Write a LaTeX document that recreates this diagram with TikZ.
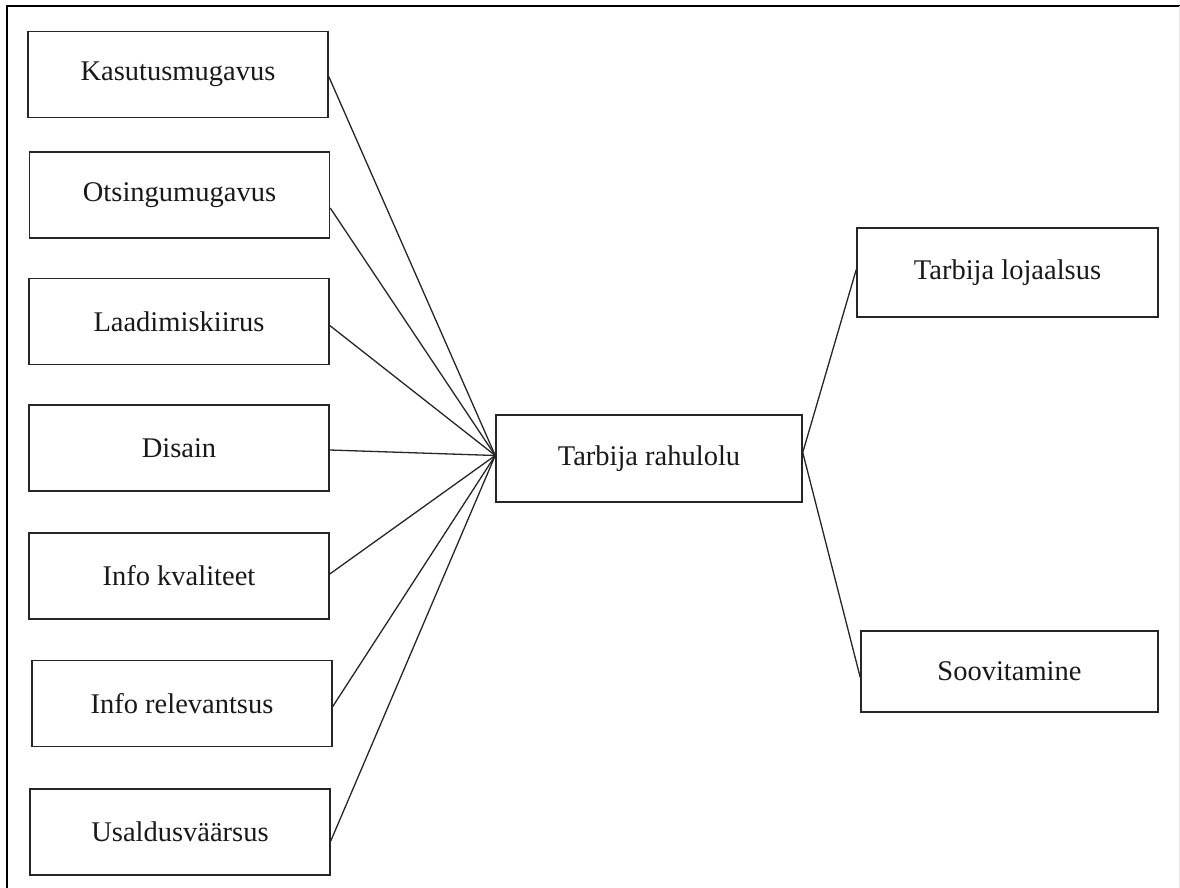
\documentclass[tikz,border=0pt]{standalone}
\usepackage{fontspec}
\setmainfont{Liberation Serif}
\begin{document}
\begin{tikzpicture}[x=1pt,y=-1pt,
  box/.style={draw=black!85,line width=1.5pt,minimum width=300pt,minimum height=86pt,inner sep=0pt,
    font=\fontsize{28.5}{34}\selectfont,text=black!90},
  conn/.style={draw=black!85,line width=1.3pt}]
\useasboundingbox (0,0) rectangle (1180,888);
\fill[white] (0,0) rectangle (1180,888);
\draw[line width=2.5pt,black] (7,888) -- (7,6) -- (1180,6);
\draw[line width=1pt,black!10] (1179,6) -- (1179,888);
\node[box] (k) at (178,74.5) {Kasutusmugavus};
\node[box] (o) at (179.5,195) {Otsingumugavus};
\node[box] (l) at (179,321.5) {Laadimiskiirus};
\node[box] (d) at (179,448) {Disain};
\node[box] (ik) at (179,576) {Info kvaliteet};
\node[box] (ir) at (182,703.5) {Info relevantsus};
\node[box] (u) at (180,832) {Usaldusväärsus};
\node[box,minimum width=306pt,minimum height=87pt] (t) at (649,458.5) {Tarbija rahulolu};
\node[box,minimum width=301pt,minimum height=89pt] (tl) at (1007.5,272.5) {Tarbija lojaalsus};
\node[box,minimum width=297pt,minimum height=81pt] (s) at (1009.5,671.5) {Soovitamine};
\coordinate (tw) at ([yshift=3pt]t.west);
\coordinate (te) at ([yshift=6pt]t.east);
\foreach \n/\dy in {k/-2,o/-13,l/-4,d/-2,ik/2,ir/-3,u/-9}{
  \draw[conn] ([yshift=\dy pt]\n.east) -- (tw);
}
\draw[conn] (te) -- ([yshift=3pt]tl.west);
\draw[conn] (te) -- ([yshift=-6pt]s.west);
\end{tikzpicture}
\end{document}
